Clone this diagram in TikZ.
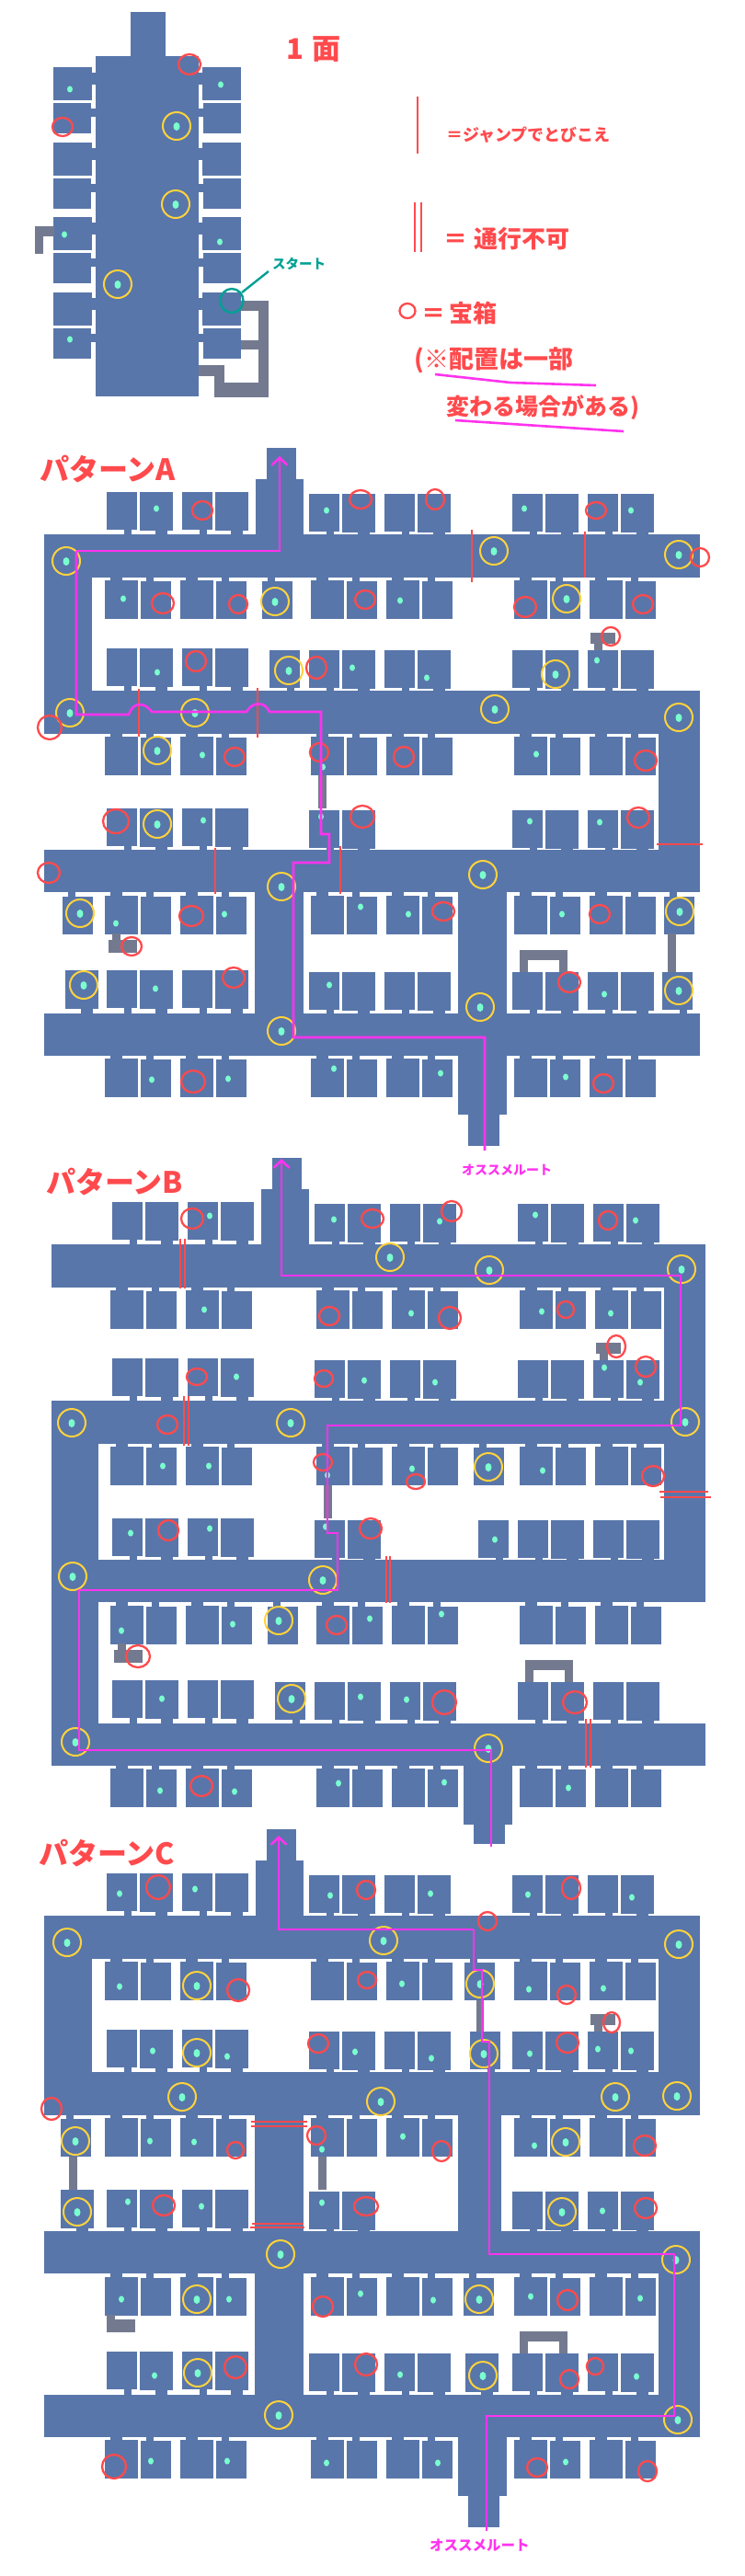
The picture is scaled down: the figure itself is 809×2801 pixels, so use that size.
\documentclass[tikz,border=0pt]{standalone}
\usepackage{fontspec}
\usepackage{xcolor}
\usepackage{tikz}
\usetikzlibrary{arrows.meta}
\newfontfamily\jpfont{Noto Sans CJK JP}

\definecolor{hallblue}{HTML}{5876AA}
\definecolor{stairgray}{HTML}{737A90}
\definecolor{gemmint}{HTML}{7AFFCF}
\definecolor{chestred}{HTML}{FF4A4D}
\definecolor{ringyellow}{HTML}{FFD23C}
\definecolor{routepink}{HTML}{FF33EE}
\definecolor{startteal}{HTML}{00A093}

\def\topall{116/33,152/36,198/33,234/36,336/33,372/36,418/33,454/36,557/33,593/36,639/33,675/36}
\def\topshort{116/33,152/36,198/33,234/36,336/33,372/36,557/33,593/36,639/33,675/36}
\def\botall{114/36,153/33,196/36,235/33,338/36,377/33,420/36,459/33,559/36,598/33,641/36,680/33}

\newcommand{\toproom}[3]{%
	\pgfmathtruncatemacro{\ry}{#1>280 ? #3+2 : #3}
	\pgfmathtruncatemacro{\rh}{#2>34 ? 42 : 41}
	\pgfmathtruncatemacro{\sx}{#2>34 ? 17 : 19}
	\pgfmathtruncatemacro{\sw}{#2>34 ? 13 : 8}
	\fill[room] (#1,\ry) rectangle ++(#2,\rh);
	\fill[room] (#1+\sx,\ry+40) rectangle ++(\sw,10);
}
\newcommand{\botroom}[3]{%
	\pgfmathtruncatemacro{\ry}{#2>34 ? #3 : #3+1}
	\pgfmathtruncatemacro{\sw}{#2>34 ? 13 : 8}
	\fill[room] (#1,\ry) rectangle (#1+#2,#3+42);
	\fill[room] (#1+6,#3-6) rectangle ++(\sw,8);
}
\newcommand{\toprow}[2]{\foreach \rx/\rw in #2 {\toproom{\rx}{\rw}{#1}}}
\newcommand{\botrow}[2]{\foreach \rx/\rw in #2 {\botroom{\rx}{\rw}{#1}}}
% rows and halls that all three patterns share
\newcommand{\floorbase}[1]{%
	\toprow{535}{\topall}
	\botrow{631}{\botall}
	\toprow{705}{\topall}
	\botrow{801}{\botall}
	\toprow{879}{\topshort}
	\botrow{974}{\botall}
	\toprow{1055}{\topall}
	\botrow{1151}{\botall}
	\fill[room] (#1,581) rectangle (761,628);
	\fill[room] (#1,751) rectangle (761,798);
	\fill[room] (#1,924) rectangle (761,970);
	\fill[room] (#1,1102) rectangle (761,1148);
	\fill[room] (278,521) rectangle (330,581);
	\fill[room] (290,487) rectangle (322,521);
	\fill[stair] (346,843) rectangle (355,879);
	\fill[stair] (642,688) rectangle (669,700);
	\fill[stair] (646,700) rectangle (655,707);
	\fill[stair] (565,1033) rectangle (617,1044);
	\fill[stair] (565,1044) rectangle (574,1057);
	\fill[stair] (608,1044) rectangle (617,1057);
}
\newcommand{\lefttee}{%
	\fill[stair] (122,1015) rectangle (131,1022);
	\fill[stair] (118,1022) rectangle (149,1036);
}
\newcommand{\gems}[1]{\foreach \gx/\gy in {#1} {\fill[gem] (\gx,\gy) ellipse (3 and 3.6);}}
\newcommand{\rings}[1]{\foreach \gx/\gy in {#1} {
	\fill[gem] (\gx,\gy+0.5) ellipse (3.5 and 4.5);
	\draw[ring] (\gx,\gy) circle (15);}}
\newcommand{\chests}[1]{\foreach \gx/\gy/\grx/\gry in {#1} {\draw[chest] (\gx,\gy) ellipse ({\grx} and {\gry});}}

\begin{document}
\begin{tikzpicture}[
		x=1pt,y=-1pt,
		room/.style={fill=hallblue},
		stair/.style={fill=stairgray},
		gem/.style={fill=gemmint},
		ring/.style={draw=ringyellow, line width=2pt},
		chest/.style={draw=chestred, line width=2.3pt},
		jumpline/.style={draw=chestred, line width=2.1pt},
		route/.style={draw=routepink, line width=2.6pt},
		hand/.style={text=chestred, anchor=west, inner sep=0pt},
		>={Straight Barb[length=8pt,width=17pt]}
		]

	\path[use as bounding box] (0,0) rectangle (809,2801);

	% first floor
	\fill[room] (104,61) rectangle (216,431);
	\fill[room] (142,13) rectangle (180,61);
	\foreach \ry/\rh in {73/36,112/33,155/36,194/33,236/36,275/33,318/36,357/33} {
		\pgfmathtruncatemacro{\sw}{\rh>34 ? 13 : 9}
		\pgfmathtruncatemacro{\lw}{\rh>34 ? 100 : 99}
		\pgfmathtruncatemacro{\rw}{\rh>34 ? 220 : 221}
		\fill[room] (58,\ry) rectangle (\lw,\ry+\rh);
		\fill[room] (\rw,\ry) rectangle (262,\ry+\rh);
		\fill[room] (96,\ry+6) rectangle ++(10,\sw);
		\fill[room] (214,\ry+6) rectangle ++(10,\sw);
	}
	\fill[stair] (38,246) rectangle (59,257);
	\fill[stair] (38,257) rectangle (47,276);
	\fill[stair] (262,327) rectangle (292,338);
	\fill[stair] (281,338) rectangle (292,432);
	\fill[stair] (262,370) rectangle (281,380);
	\fill[stair] (233,416) rectangle (281,432);
	\fill[stair] (233,397) rectangle (244,416);
	\fill[stair] (216,397) rectangle (233,409);
	\gems{76/97,240/92,70/255,239/263,76/369}
	\rings{192/137,191/222,128/309}
	\chests{206/70/12/11,68/138/11/10}
	\draw[draw=startteal, line width=2.4pt] (252,327) ellipse (12.5 and 13);
	\draw[draw=startteal, line width=2.4pt] (263,318) -- (292,295);
	\node[hand, text=startteal, font=\jpfont\bfseries\fontsize{14.5}{15}\selectfont] (startlabel) at (296,287) {スタート};
	\node[hand, font=\jpfont\bfseries\fontsize{31}{32}\selectfont] (floortitle) at (311,54) {1\hspace{9pt}面};

	% legend
	\draw[jumpline] (454,105) -- (454,167);
	\node[hand, font=\jpfont\bfseries\fontsize{18}{19}\selectfont] (jumptext) at (485,147) {＝ジャンプでとびこえ};
	\draw[jumpline, line width=1.6pt] (451,220) -- (451,274);
	\draw[jumpline, line width=1.6pt] (458,220) -- (458,274);
	\node[hand, font=\jpfont\bfseries\fontsize{26}{27}\selectfont] (blocktext) at (482,260) {＝\hspace{7pt}通行不可};
	\draw[chest] (443,338) ellipse (8.5 and 8);
	\node[hand, font=\jpfont\bfseries\fontsize{26}{27}\selectfont] (chesttext) at (458,341) {＝\hspace{4pt}宝箱};
	\node[hand, font=\jpfont\bfseries\fontsize{27}{28}\selectfont] (notetexta) at (450,392) {(※配置は一部};
	\node[hand, font=\jpfont\bfseries\fontsize{25}{26}\selectfont] (notetextb) at (485,443) {変わる場合がある)};
	\draw[route] (473,407) -- (555,416) -- (648,419);
	\draw[route] (495,457) -- (678,469);

	% pattern A
	\node[hand, font=\jpfont\bfseries\fontsize{32}{33}\selectfont] (titlea) at (43,510) {パターンA};
	\floorbase{48}
	\lefttee
	\fill[room] (48,581) rectangle (100,798);
	\fill[room] (716,751) rectangle (761,924);
	\fill[room] (277,970) rectangle (330,1102);
	\fill[room] (498,970) rectangle (551,1102);
	\fill[room] (498,1148) rectangle (551,1212);
	\fill[room] (509,1212) rectangle (543,1246);
	\toproom{293}{33}{705}
	\botroom{285}{33}{631}
	\botroom{68}{33}{974}
	\botroom{722}{33}{974}
	\toproom{71}{36}{1055}
	\toproom{720}{33}{1055}
	\fill[stair] (726,1015) rectangle (735,1057);
	\gems{170/553,355/555,134/651,171/731,383/726,220/821,351/834,570/553,686/555,435/653,649/718,464/737,583/820,221/892,349/888,126/1004,244/994,392/986,169/1075,358/1071,165/1174,248/1173,363/1162,576/893,652/894,444/994,611/994,657/1081,479/1167,615/1171}
	\rings{72/610,299/654,314/729,76/775,212/775,171/816,537/599,738/603,616/651,604/733,538/771,738/780,171/896,306/964,87/993,91/1071,306/1121,525/951,739/991,738/1077,522/1095}
	\chests{220/555/11/10,392/543/12/10,177/656/12/11,259/657/10/10,397/652/11/10,213/719/11/11,344/726/11/12,54/791/13/13,255/823/11/10,347/818/10/10,473/543/10/11,648/555/11/9,761/606/10/10,571/660/12/11,699/657/11/10,664/692/10/10,439/823/11/11,702/827/12/11,126/893/14/13,394/888/13/12,53/949/12/11,208/996/13/11,143/1029/11/10,254/1063/12/11,210/1176/13/12,694/889/12/11,482/991/12/10,652/994/11/10,619/1068/12/11,656/1178/11/10}
	\draw[jumpline] (151,749) -- (151,801);
	\draw[jumpline] (280,748) -- (280,802);
	\draw[jumpline] (513,576) -- (513,633);
	\draw[jumpline] (636,578) -- (636,628);
	\draw[jumpline] (234,922) -- (234,972);
	\draw[jumpline] (370,920) -- (370,972);
	\draw[jumpline] (714,918) -- (764,918);
	\draw[route,->] (83,599) -- (304,599) -- (304,496);
	\draw[route] (83,599) -- (83,777) -- (140,777) .. controls (144,764) and (156,762) .. (165,774) -- (268,774) .. controls (274,763) and (288,762) .. (293,774) -- (349,774) -- (349,907) -- (358,907) -- (358,938) -- (319,938) -- (319,1128) -- (527,1128) -- (527,1251);
	\node[hand, text=routepink, font=\jpfont\bfseries\fontsize{14}{15}\selectfont] (routea) at (502,1272) {オススメルート};

	% pattern B
	\node[hand, font=\jpfont\bfseries\fontsize{32}{33}\selectfont] (titleb) at (50,1285) {パターンB};
	\begin{scope}[shift={(6,772)}]
		\floorbase{50}
		\lefttee
		\fill[room] (50,751) rectangle (101,1148);
		\fill[room] (716,581) rectangle (761,970);
		\fill[room] (498,1148) rectangle (551,1212);
		\fill[room] (509,1212) rectangle (543,1233);
		\botroom{509}{33}{801}
		\toproom{514}{33}{879}
		\botroom{285}{33}{974}
		\toproom{293}{33}{1055}
	\end{scope}
	\gems{228/1322,363/1326,222/1424,257/1497,396/1501,177/1594,227/1594,356/1604,478/1328,582/1321,691/1327,447/1428,589/1426,664/1428,473/1503,657/1487,696/1503,448/1597,590/1599,142/1667,228/1662,354/1660,132/1773,253/1766,402/1760,176/1847,392/1845,368/1939,174/1947,255/1948,538/1674,480/1755,442/1848,483/1938,618/1944}
	\rings{78/1547,316/1547,424/1367,532/1381,741/1380,745/1546,531/1595,79/1714,351/1718,303/1762,317/1847,82/1894,531/1901}
	\chests{209/1325/12/11,358/1431/11/10,405/1325/12/10,214/1497/11/9,352/1499/10/9,182/1549/11/10,351/1590/10/9,183/1664/11/11,491/1317/11/11,661/1327/10/10,489/1433/12/12,615/1424/9/9,670/1464/10/12,702/1486/11/11,452/1611/10/8,710/1605/12/11,403/1662/12/11,366/1767/11/10,150/1801/13/12,219/1942/12/11,483/1851/13/13,625/1851/13/12}
	\foreach \jx in {196,201} {\draw[jumpline] (\jx,1347) -- (\jx,1401);}
	\foreach \jx in {200,205} {\draw[jumpline] (\jx,1518) -- (\jx,1572);}
	\foreach \jx in {420,424} {\draw[jumpline] (\jx,1692) -- (\jx,1743);}
	\foreach \jx in {637,642} {\draw[jumpline] (\jx,1869) -- (\jx,1922);}
	\draw[jumpline] (717,1622) -- (770,1622);
	\draw[jumpline] (718,1628) -- (773,1628);
	\draw[route,->] (534,2008) -- (534,1903) -- (86,1903) -- (86,1729) -- (367,1729) -- (367,1667) -- (356,1667) -- (356,1550) -- (740,1550) -- (740,1387) -- (306,1387) -- (306,1260);

	% pattern C
	\node[hand, font=\jpfont\bfseries\fontsize{32}{33}\selectfont] (titlec) at (42,2015) {パターンC};
	\begin{scope}[shift={(0,1502)}]
		\floorbase{48}
		\fill[stair] (116,1015) rectangle (125,1020);
		\fill[stair] (116,1020) rectangle (147,1034);
		\fill[room] (48,581) rectangle (100,798);
		\fill[room] (716,581) rectangle (761,798);
		\fill[room] (716,924) rectangle (761,1102);
		\fill[room] (277,798) rectangle (330,1102);
		\fill[room] (498,798) rectangle (545,924);
		\fill[room] (498,1148) rectangle (551,1212);
		\fill[room] (509,1212) rectangle (543,1246);
		\botroom{505}{33}{631}
		\toproom{511}{33}{705}
		\botroom{66}{33}{801}
		\toproom{66}{36}{879}
		\botroom{504}{33}{974}
		\toproom{506}{36}{1055}
		\fill[stair] (518,673) rectangle (526,707);
		\fill[stair] (75,843) rectangle (84,879);
	\end{scope}
	\gems{130/2059,212/2054,359/2061,468/2059,574/2060,687/2063,130/2160,437/2157,575/2163,656/2162,166/2230,247/2236,386/2231,469/2238,576/2233,650/2228,686/2230,163/2328,211/2329,350/2337,438/2323,581/2333,139/2394,219/2399,350/2395,655/2404,132/2500,249/2500,392/2494,471/2501,577/2497,696/2499,168/2583,435/2582,692/2584,164/2676,247/2676,355/2678,476/2678,615/2677}
	\rings{73/2112,417/2110,738/2114,214/2159,522/2157,214/2232,526/2233,198/2280,414/2285,669/2280,736/2279,82/2328,615/2329,84/2405,611/2405,305/2451,735/2457,214/2500,521/2500,215/2580,525/2583,303/2626,737/2631}
	\chests{172/2052/13/13,398/2055/10/10,621/2053/10/12,530/2089/10/10,259/2164/12/12,399/2153/10/9,616/2169/10/10,665/2199/9/11,346/2222/11/10,617/2221/12/11,56/2293/11/12,344/2322/10/10,256/2338/9/9,480/2339/10/11,701/2333/12/11,178/2398/12/11,398/2399/13/10,702/2401/12/11,351/2508/11/11,617/2501/11/11,256/2574/12/12,398/2571/12/12,647/2573/9/9,619/2587/10/10,124/2682/13/13,584/2683/11/10,704/2687/10/11}
	\draw[jumpline] (273,2307) -- (334,2307);
	\draw[jumpline] (273,2312) -- (334,2312);
	\draw[jumpline] (274,2418) -- (330,2418);
	\draw[jumpline] (272,2422) -- (331,2422);
	\draw[route,->] (515,2098) -- (303,2098) -- (303,1996);
	\draw[route] (515,2098) -- (515,2142) -- (524,2142) -- (524,2220) -- (532,2220) -- (532,2451) -- (733,2451) -- (733,2627) -- (529,2627) -- (529,2752);
	\node[hand, text=routepink, font=\jpfont\bfseries\fontsize{15.5}{16}\selectfont] (routec) at (467,2768) {オススメルート};

\end{tikzpicture}
\end{document}
